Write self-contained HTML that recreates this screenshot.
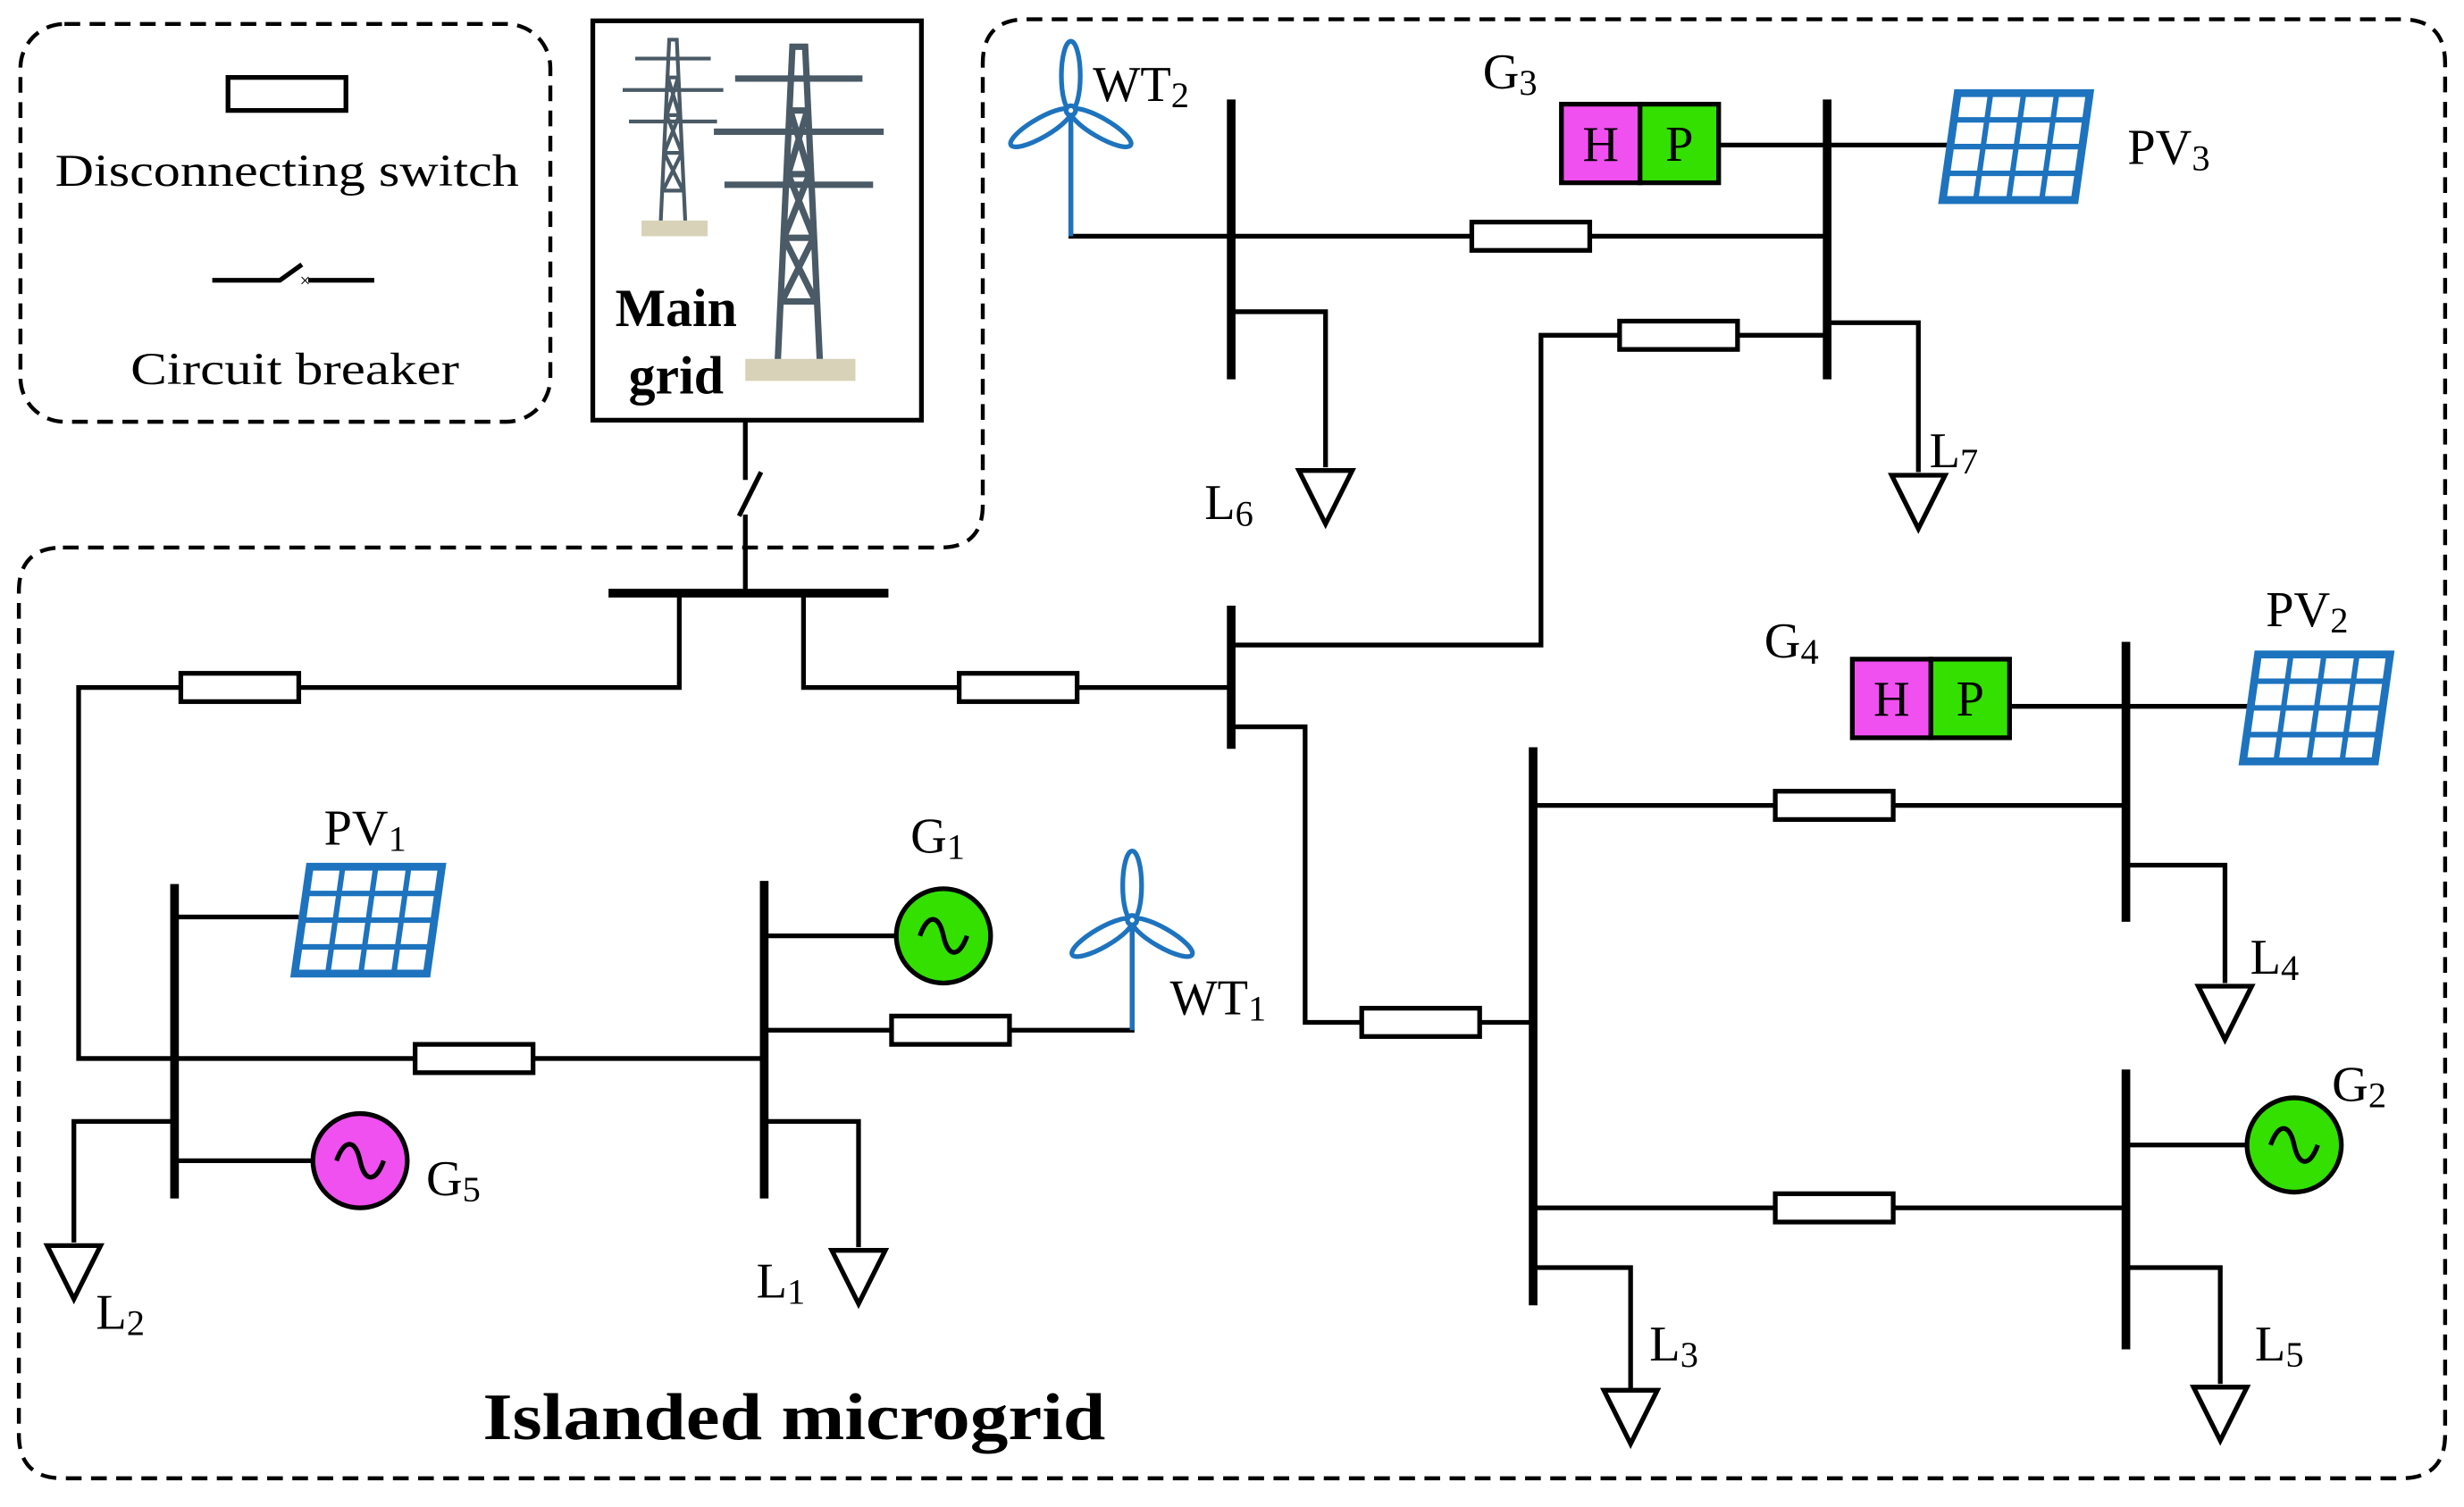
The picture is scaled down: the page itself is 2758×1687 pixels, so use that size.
<!DOCTYPE html>
<html><head><meta charset="utf-8"><style>
html,body{margin:0;padding:0;background:#fff;}
svg{display:block;}
text{font-family:"Liberation Serif",serif;fill:#000;}
</style></head><body>
<svg width="2758" height="1687" viewBox="0 0 1567 958" xmlns="http://www.w3.org/2000/svg">
<defs>
<clipPath id="mg"><rect x="379" y="15" width="205" height="250"/></clipPath>
<g id="pv">
 <g transform="skewX(-8)">
  <rect x="0" y="0" width="84" height="68" fill="#fff" stroke="#1e73be" stroke-width="5"/>
  <g stroke="#1e73be" stroke-width="3.5">
   <line x1="21" y1="0" x2="21" y2="68"/><line x1="42" y1="0" x2="42" y2="68"/><line x1="63" y1="0" x2="63" y2="68"/>
   <line x1="0" y1="17" x2="84" y2="17"/><line x1="0" y1="34" x2="84" y2="34"/><line x1="0" y1="51" x2="84" y2="51"/>
  </g>
 </g>
</g>
<g id="wt" fill="none" stroke="#1e73be" stroke-width="3">
 <ellipse cx="0" cy="-22" rx="6" ry="22"/>
 <ellipse cx="0" cy="-22" rx="6" ry="22" transform="rotate(120)"/>
 <ellipse cx="0" cy="-22" rx="6" ry="22" transform="rotate(240)"/>
 <circle cx="0" cy="0" r="3" fill="#fff"/>
</g>
<g id="load"><polygon points="-17,0 17,0 0,34" fill="#fff" stroke="#000" stroke-width="3"/></g>
<g id="sw"><rect x="0" y="-9" width="75" height="18" fill="#fff" stroke="#000" stroke-width="3"/></g>
<g id="gen"><path d="M-15,0 C-10,-14 -3,-14 0,0 C3,14 10,14 15,0" fill="none" stroke="#000" stroke-width="3"/></g>
<g id="tower" fill="none" stroke="#4a5a66" stroke-width="3">
 <path d="M-10,0 L-3,-150 L3,-150 L10,0 M-8,-30 L8,-30 M-7,-60 L7,-60 M-5,-90 L5,-90 M-4,-120 L4,-120 M-8,-30 L7,-60 M8,-30 L-7,-60 M-7,-60 L5,-90 M7,-60 L-5,-90 M-5,-90 L4,-120 M5,-90 L-4,-120"/>
 <path d="M-40,-110 L40,-110 M-30,-135 L30,-135 M-35,-85 L35,-85"/>
</g>
</defs>

<rect x="13" y="15" width="337" height="253" rx="28" fill="none" stroke="#000" stroke-width="2.5" stroke-dasharray="10,6"/>
<path d="M40,348 L598,348 Q625,348 625,321 L625,40 Q625,12 653,12 L1527,12 Q1555,12 1555,40 L1555,912 Q1555,940 1527,940 L40,940 Q12,940 12,912 L12,376 Q12,348 40,348 Z" fill="none" stroke="#000" stroke-width="2.5" stroke-dasharray="10,6"/>

<rect x="145" y="49" width="75" height="21" fill="#fff" stroke="#000" stroke-width="3"/>
<text x="35" y="118" font-size="29" textLength="295" lengthAdjust="spacingAndGlyphs">Disconnecting switch</text>
<path d="M135,178 L178,178 L192,168 M196,178 L238,178" stroke="#000" stroke-width="3" fill="none"/>
<text x="194" y="182" font-size="12" text-anchor="middle">×</text>
<text x="83" y="244" font-size="29" textLength="209" lengthAdjust="spacingAndGlyphs">Circuit breaker</text>

<rect x="377" y="13" width="209" height="254" fill="#fff" stroke="#000" stroke-width="3"/>
<g clip-path="url(#mg)">
<use href="#tower" transform="translate(428,145) scale(0.8)"/>
<rect x="408" y="140" width="42" height="10" fill="#d8d2b8"/>
<use href="#tower" transform="translate(508,232) scale(1.35)"/>
<rect x="474" y="228" width="70" height="14" fill="#d8d2b8"/>
</g>
<text x="430" y="207" font-size="34" font-weight="bold" text-anchor="middle">Main</text>
<text x="430" y="250" font-size="34" font-weight="bold" text-anchor="middle">grid</text>

<g stroke="#000" stroke-width="3" fill="none">
<path d="M474,267 L474,305 M474,327 L474,377 M470,328 L484,300"/>
<path d="M432,377 L432,437 L50,437 L50,673 L486,673"/>
<path d="M511,377 L511,437 L783,437"/>
<path d="M783,410 L980,410 L980,213 L1162,213"/>
<path d="M783,462 L830,462 L830,650 L975,650"/>
<path d="M111,583 L190,583"/>
<path d="M111,713 L47,713 L47,790"/>
<path d="M111,738 L199,738"/>
<path d="M486,595 L570,595"/>
<path d="M486,655 L720,655 L720,590"/>
<path d="M486,713 L546,713 L546,793"/>
<path d="M975,512 L1352,512"/>
<path d="M975,768 L1352,768"/>
<path d="M975,806 L1037,806 L1037,883"/>
<path d="M1278,449 L1436,449"/>
<path d="M1352,550 L1415,550 L1415,625"/>
<path d="M1352,728 L1429,728"/>
<path d="M1352,806 L1412,806 L1412,880"/>
<path d="M681,80 L681,150 L1162,150"/>
<path d="M783,198 L843,198 L843,297"/>
<path d="M1093,92 L1245,92"/>
<path d="M1162,205 L1220,205 L1220,300"/>
</g>

<g stroke="#000" stroke-width="5.5">
<line x1="387" y1="377" x2="565" y2="377"/>
<line x1="783" y1="385" x2="783" y2="476"/>
<line x1="111" y1="562" x2="111" y2="762"/>
<line x1="486" y1="560" x2="486" y2="762"/>
<line x1="975" y1="475" x2="975" y2="830"/>
<line x1="1352" y1="408" x2="1352" y2="586"/>
<line x1="1352" y1="680" x2="1352" y2="858"/>
<line x1="783" y1="63" x2="783" y2="241"/>
<line x1="1162" y1="63" x2="1162" y2="241"/>
</g>

<use href="#sw" x="115" y="437"/>
<use href="#sw" x="610" y="437"/>
<use href="#sw" x="1030" y="213"/>
<use href="#sw" x="866" y="650"/>
<use href="#sw" x="264" y="673"/>
<use href="#sw" x="567" y="655"/>
<use href="#sw" x="1129" y="512"/>
<use href="#sw" x="1129" y="768"/>
<use href="#sw" x="936" y="150"/>

<use href="#load" x="47" y="792"/>
<use href="#load" x="546" y="795"/>
<use href="#load" x="1037" y="884"/>
<use href="#load" x="1415" y="627"/>
<use href="#load" x="1412" y="882"/>
<use href="#load" x="843" y="299"/>
<use href="#load" x="1220" y="302"/>

<circle cx="229" cy="738" r="30" fill="#f050f0" stroke="#000" stroke-width="3"/><use href="#gen" x="229" y="738"/>
<circle cx="600" cy="595" r="30" fill="#33e000" stroke="#000" stroke-width="3"/><use href="#gen" x="600" y="595"/>
<circle cx="1459" cy="728" r="30" fill="#33e000" stroke="#000" stroke-width="3"/><use href="#gen" x="1459" y="728"/>

<rect x="993" y="66" width="50" height="50" fill="#f050f0" stroke="#000" stroke-width="3"/>
<rect x="1043" y="66" width="50" height="50" fill="#33e000" stroke="#000" stroke-width="3"/>
<text x="1018" y="102" font-size="32" text-anchor="middle">H</text>
<text x="1068" y="102" font-size="32" text-anchor="middle">P</text>
<rect x="1178" y="419" width="50" height="50" fill="#f050f0" stroke="#000" stroke-width="3"/>
<rect x="1228" y="419" width="50" height="50" fill="#33e000" stroke="#000" stroke-width="3"/>
<text x="1203" y="455" font-size="32" text-anchor="middle">H</text>
<text x="1253" y="455" font-size="32" text-anchor="middle">P</text>

<use href="#pv" x="197" y="551"/>
<use href="#pv" x="1245" y="59"/>
<use href="#pv" x="1436" y="416"/>

<line x1="720" y1="590" x2="720" y2="655" stroke="#1e73be" stroke-width="3"/>
<use href="#wt" x="720" y="585"/>
<line x1="681" y1="75" x2="681" y2="150" stroke="#1e73be" stroke-width="3"/>
<use href="#wt" x="681" y="70"/>

<g font-size="32">
<text x="695" y="64">WT<tspan font-size="23" dy="4">2</tspan></text>
<text x="943" y="56">G<tspan font-size="23" dy="4">3</tspan></text>
<text x="1353" y="104">PV<tspan font-size="23" dy="4">3</tspan></text>
<text x="766" y="330">L<tspan font-size="23" dy="4">6</tspan></text>
<text x="1227" y="297">L<tspan font-size="23" dy="4">7</tspan></text>
<text x="1122" y="418">G<tspan font-size="23" dy="4">4</tspan></text>
<text x="1441" y="398">PV<tspan font-size="23" dy="4">2</tspan></text>
<text x="206" y="537">PV<tspan font-size="23" dy="4">1</tspan></text>
<text x="579" y="542">G<tspan font-size="23" dy="4">1</tspan></text>
<text x="744" y="645">WT<tspan font-size="23" dy="4">1</tspan></text>
<text x="271" y="760">G<tspan font-size="23" dy="4">5</tspan></text>
<text x="61" y="845">L<tspan font-size="23" dy="4">2</tspan></text>
<text x="481" y="825">L<tspan font-size="23" dy="4">1</tspan></text>
<text x="1049" y="865">L<tspan font-size="23" dy="4">3</tspan></text>
<text x="1431" y="619">L<tspan font-size="23" dy="4">4</tspan></text>
<text x="1434" y="865">L<tspan font-size="23" dy="4">5</tspan></text>
<text x="1483" y="700">G<tspan font-size="23" dy="4">2</tspan></text>
</g>
<text x="307" y="915" font-size="42" font-weight="bold" textLength="396" lengthAdjust="spacingAndGlyphs">Islanded microgrid</text>
</svg>
</body></html>
